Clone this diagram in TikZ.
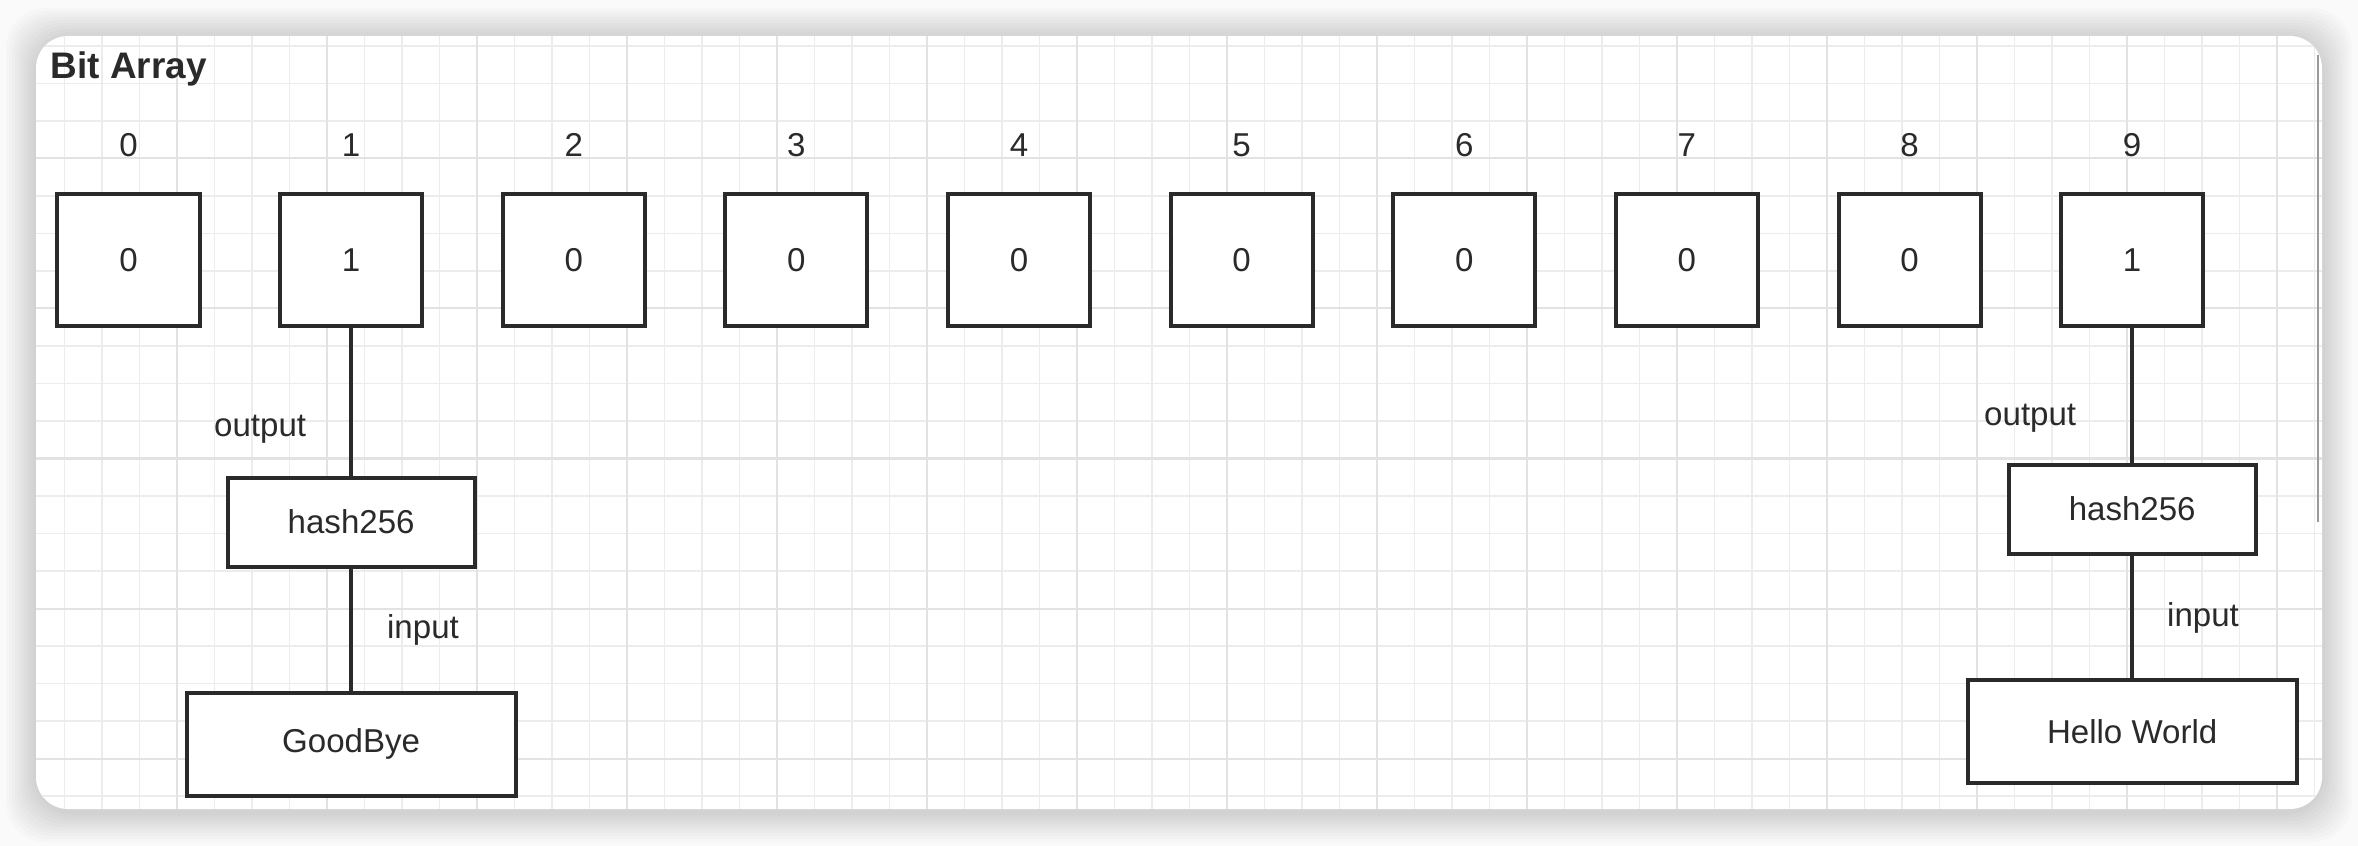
\documentclass[tikz,border=0pt]{standalone}
\usepackage{fontspec}
\setmainfont{Liberation Sans}
\usetikzlibrary{positioning}
\definecolor{ink}{HTML}{2A2A2A}
\definecolor{gridmin}{HTML}{ECECEC}
\definecolor{gridmaj}{HTML}{E2E2E2}
\definecolor{page}{HTML}{FAFAFA}
\definecolor{scrollbar}{HTML}{9A9A9A}
\newcommand{\diagfont}{\fontsize{9.4}{11}\selectfont}
\newcommand{\headfont}{\fontsize{10.5}{12}\selectfont\bfseries}

\begin{document}
\begin{tikzpicture}[x=0.01cm, y=-0.01cm,
      bit/.style={draw=ink, line width=0.04cm, fill=white, minimum width=1.42cm,
                  minimum height=1.31cm, font=\diagfont, text=ink},
      idx/.style={inner sep=0pt, font=\diagfont, text=ink},
      func/.style={bit, minimum width=2.47cm, minimum height=0.89cm},
      data/.style={bit, minimum width=3.29cm, minimum height=1.03cm},
      lbl/.style={inner sep=0pt, font=\diagfont, text=ink},
      wire/.style={ink, line width=0.04cm},
      minor/.style={gridmin, line width=0.015cm},
      major/.style={gridmaj, line width=0.02cm}]
    \useasboundingbox (0,0) rectangle (2358,846);
    \fill[page] (0,0) rectangle (2358,846);
    % soft shadow under the card
    \foreach \r in {1,...,10}
      \fill[black, opacity=0.014, rounded corners=0.4cm]
        (36-3*\r,38-3*\r) rectangle (2322+3*\r,812+3*\r);
    \fill[white, rounded corners=0.32cm] (36,36) rectangle (2322,809);
    \begin{scope}
      \clip[rounded corners=0.32cm] (36,36) rectangle (2322,809);
      \foreach \gx in {27,64.5,...,2330} \draw[minor] (\gx,36) -- (\gx,809);
      \foreach \gy in {8.5,46,...,815} \draw[minor] (36,\gy) -- (2322,\gy);
      \foreach \gx in {177,327,...,2330} \draw[major] (\gx,36) -- (\gx,809);
      \foreach \gy in {158.5,308.5,...,815} \draw[major] (36,\gy) -- (2322,\gy);
    \end{scope}
    \draw[scrollbar, line width=0.02cm] (2318,55) -- (2318,522);

    \node[anchor=base west, inner sep=0pt, font=\headfont, text=ink] (title) at (50,79) {Bit Array};

    \node[bit] (bit0) at (128.5,260) {0};
    \node[bit, right=0.765cm of bit0] (bit1) {1};
    \node[bit, right=0.765cm of bit1] (bit2) {0};
    \node[bit, right=0.765cm of bit2] (bit3) {0};
    \node[bit, right=0.765cm of bit3] (bit4) {0};
    \node[bit, right=0.765cm of bit4] (bit5) {0};
    \node[bit, right=0.765cm of bit5] (bit6) {0};
    \node[bit, right=0.765cm of bit6] (bit7) {0};
    \node[bit, right=0.765cm of bit7] (bit8) {0};
    \node[bit, right=0.765cm of bit8] (bit9) {1};

    \node[idx, above=0.35cm of bit0] (idx0) {0};
    \node[idx, above=0.35cm of bit1] (idx1) {1};
    \node[idx, above=0.35cm of bit2] (idx2) {2};
    \node[idx, above=0.35cm of bit3] (idx3) {3};
    \node[idx, above=0.35cm of bit4] (idx4) {4};
    \node[idx, above=0.35cm of bit5] (idx5) {5};
    \node[idx, above=0.35cm of bit6] (idx6) {6};
    \node[idx, above=0.35cm of bit7] (idx7) {7};
    \node[idx, above=0.35cm of bit8] (idx8) {8};
    \node[idx, above=0.35cm of bit9] (idx9) {9};

    \node[func, below=1.48cm of bit1]  (hashA)   {hash256};
    \node[data, below=1.22cm of hashA] (goodbye) {GoodBye};
    \node[func, below=1.35cm of bit9]  (hashB)   {hash256};
    \node[data, below=1.22cm of hashB] (hello)   {Hello World};

    \draw[wire] (bit1)  -- node[lbl, pos=.69, left=0.43cm]  (outA) {output} (hashA);
    \draw[wire] (hashA) -- node[lbl, pos=.5,  right=0.34cm] (inA)  {input}  (goodbye);
    \draw[wire] (bit9)  -- node[lbl, pos=.67, left=0.54cm]  (outB) {output} (hashB);
    \draw[wire] (hashB) -- node[lbl, pos=.51, right=0.33cm] (inB)  {input}  (hello);
  \end{tikzpicture}
\end{document}
